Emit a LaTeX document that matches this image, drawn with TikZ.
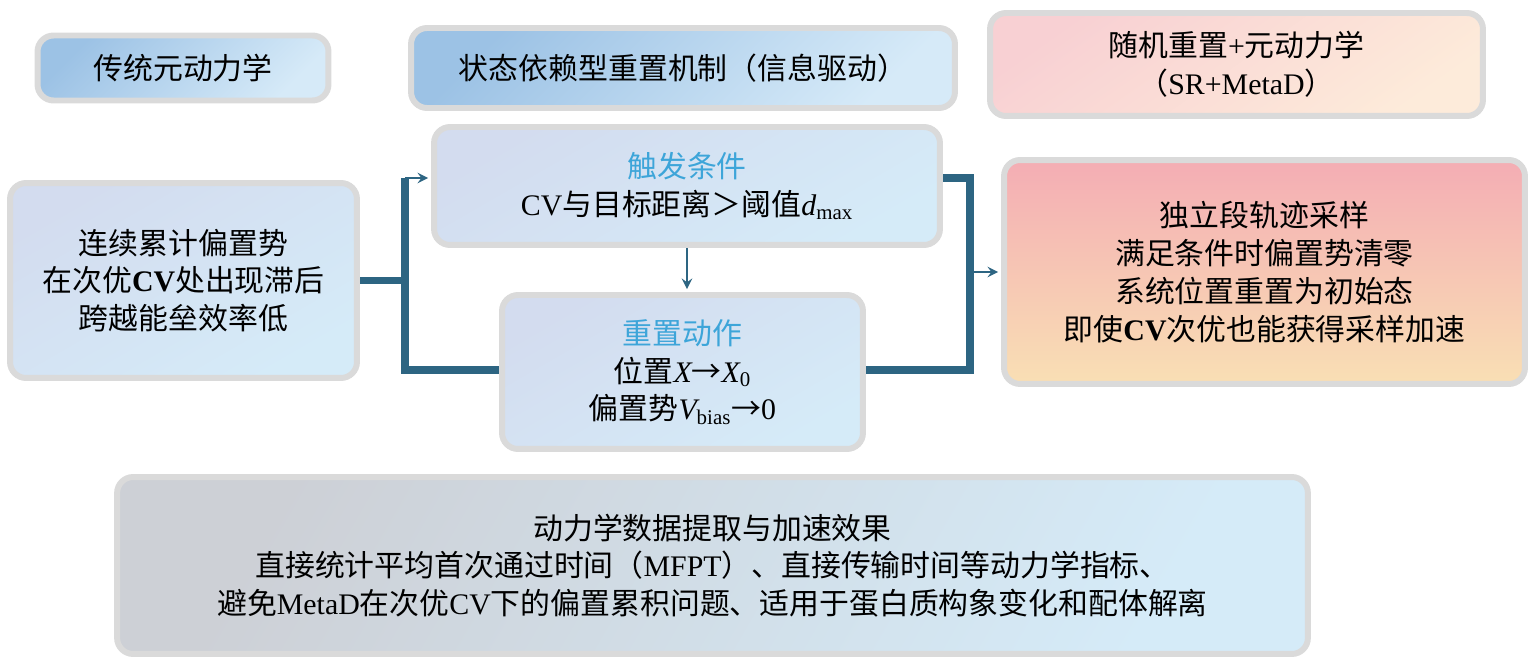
\documentclass[tikz,border=0pt]{standalone}
\usepackage{fontspec}
\setmainfont{Noto Sans CJK SC}
\newfontfamily\latn{Liberation Serif}
\usetikzlibrary{arrows,backgrounds}
\definecolor{boxline}{HTML}{DADADA}
\definecolor{linkc}{HTML}{2D6582}
\definecolor{titc}{HTML}{3DA5D9}
\definecolor{headA}{HTML}{9CC2E5}
\definecolor{headB}{HTML}{D6EAF8}
\definecolor{paleA}{HTML}{D3DCEF}
\definecolor{paleB}{HTML}{D5EBF8}
\definecolor{pinkA}{HTML}{F8D0D3}
\definecolor{pinkB}{HTML}{FDEBDA}
\definecolor{warmA}{HTML}{F4ADB4}
\definecolor{warmB}{HTML}{F9DFB4}
\definecolor{greyA}{HTML}{CDD0D6}
\newcommand{\sub}[1]{\textsubscript{\latn #1}}

\begin{document}
\begin{tikzpicture}[x=0.02cm,y=-0.02cm,
    box/.style={draw=boxline,line width=3.4pt,rounded corners=0.32cm,align=center,inner sep=0pt,
                font=\fontsize{17}{21.5}\selectfont},
    headbox/.style={box,top color=headA,bottom color=headB,shading angle=45},
    palebox/.style={box,top color=paleA,bottom color=paleB,shading angle=30},
    thickln/.style={draw=linkc,line width=4.5pt},
    thinarr/.style={draw=linkc,line width=1.6pt,-stealth,shorten >=1.7pt}
  ]
    \useasboundingbox (0,0) rectangle (1536,665);

    % headers
    \node[headbox,minimum width=5.82cm,minimum height=1.3cm] (trad) at (183,68) {传统元动力学};
    \node[headbox,minimum width=10.88cm,minimum height=1.6cm] (state) at (683,68) {状态依赖型重置机制（信息驱动）};
    \node[box,top color=pinkA,bottom color=pinkB,shading angle=35,minimum width=9.86cm,minimum height=2.06cm] (srmeta) at (1236.5,64.5)
        {随机重置{\latn +}元动力学\\（{\latn SR+MetaD}）};

    % flow
    \node[palebox,minimum width=6.94cm,minimum height=3.9cm] (bias) at (183.5,280.5)
        {连续累计偏置势\\在次优{\latn\bfseries CV}处出现滞后\\跨越能垒效率低};
    \node[palebox,minimum width=10.12cm,minimum height=2.36cm] (trig) at (687,186)
        {{\color{titc}触发条件}\\{\latn CV}与目标距离＞阈值{\latn\itshape d}\sub{max}};
    \node[palebox,minimum width=7.22cm,minimum height=3.08cm] (reset) at (682.5,372)
        {{\color{titc}重置动作}\\位置{\latn\itshape X}→{\latn\itshape X}\sub{0}\\偏置势{\latn\itshape V}\sub{bias}→{\latn 0}};
    \node[box,top color=warmA,bottom color=warmB,minimum width=10.42cm,minimum height=4.48cm] (indep) at (1264.5,272)
        {独立段轨迹采样\\满足条件时偏置势清零\\系统位置重置为初始态\\即使{\latn\bfseries CV}次优也能获得采样加速};
    \node[box,top color=greyA,bottom color=paleB,shading angle=60,minimum width=23.82cm,minimum height=3.54cm] (kin) at (712.5,565.5)
        {动力学数据提取与加速效果\\直接统计平均首次通过时间（{\latn MFPT}）、直接传输时间等动力学指标、\\避免{\latn MetaD}在次优{\latn CV}下的偏置累积问题、适用于蛋白质构象变化和配体解离};

    \coordinate (lt) at (405,178);
    \coordinate (lb) at (405,370);
    \coordinate (rt) at (970,178);
    \coordinate (rb) at (970,370);
    \coordinate (rm) at (970,272);

    \draw[thinarr] (lt) -- (lt -| trig.west);
    \draw[thinarr] (trig.south) -- (trig.south |- reset.north);
    \draw[thinarr] (rm) -- (indep.west);

    % Background
    \begin{scope}[on background layer]
        \draw[thickln] (bias.east) -- (bias.east -| lt);
        \draw[thickln] (lt) -- (lb) -- (lb -| reset.west);
        \draw[thickln] (trig.east |- rt) -- (rt) -- (rb) -- (reset.east |- rb);
    \end{scope}
\end{tikzpicture}
\end{document}
